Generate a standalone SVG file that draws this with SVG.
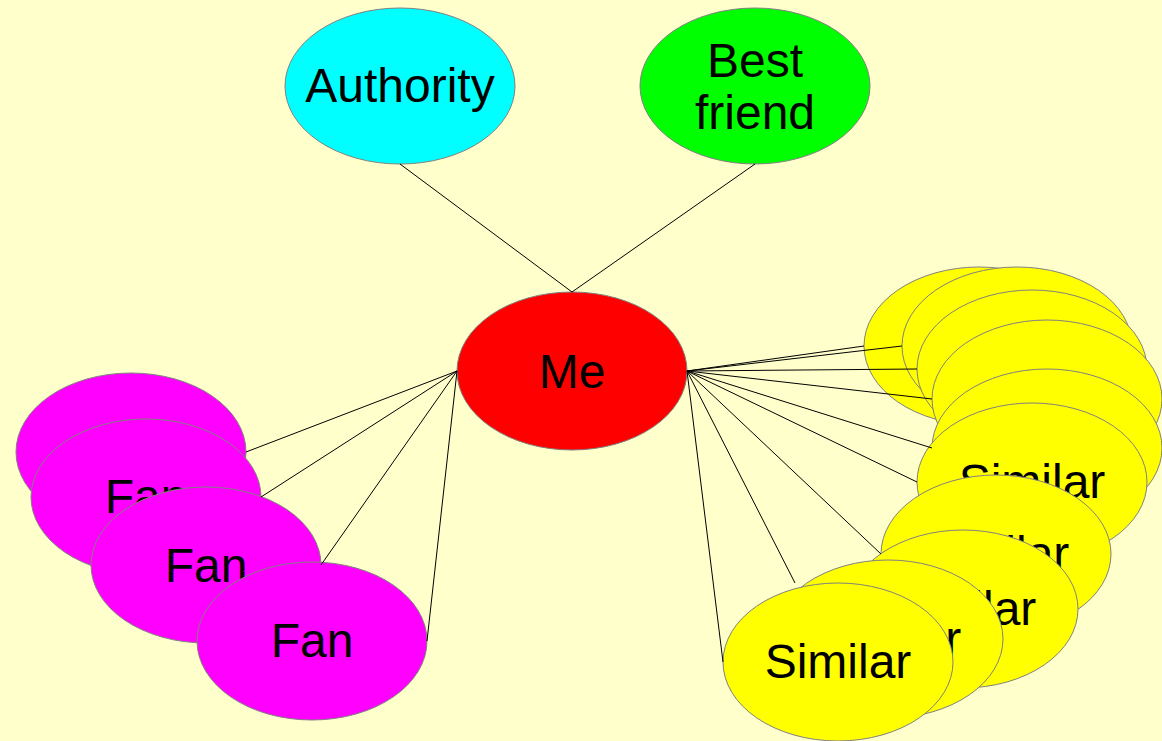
<svg xmlns="http://www.w3.org/2000/svg" width="1162" height="741" viewBox="0 0 1162 741">
<style>
  .n ellipse { stroke: #808080; stroke-width: 1; }
  .n text { font-family: "Liberation Sans", Arial, sans-serif; font-size: 48px; fill: #000; text-anchor: middle; }
  .fan ellipse { fill: #FF00FF; }
  .sim ellipse { fill: #FFFF00; }
  #edges line { stroke: #000; stroke-width: 1; }
</style>
<rect x="0" y="0" width="1162" height="741" fill="#FFFFCC"/>

<g id="authority" class="n"><ellipse cx="400" cy="86" rx="115" ry="78" fill="#00FFFF"/><text x="400" y="102">Authority</text></g>
<g id="bestfriend" class="n"><ellipse cx="755" cy="86" rx="115" ry="78" fill="#00FF00"/><text x="755" y="77">Best</text><text x="755" y="129">friend</text></g>
<g id="me" class="n"><ellipse cx="572" cy="371" rx="115" ry="79" fill="#FF0000"/><text x="572" y="388">Me</text></g>

<g id="fan1" class="n fan"><ellipse cx="131" cy="452" rx="115" ry="79"/><text x="131" y="468">Fan</text></g>
<g id="fan2" class="n fan"><ellipse cx="146" cy="497" rx="115" ry="78"/><text x="146" y="513">Fan</text></g>
<g id="fan3" class="n fan"><ellipse cx="206" cy="565" rx="115" ry="78"/><text x="206" y="582">Fan</text></g>
<g id="fan4" class="n fan"><ellipse cx="312" cy="641" rx="115" ry="79"/><text x="312" y="657">Fan</text></g>

<g id="sim1" class="n sim"><ellipse cx="979" cy="346" rx="115" ry="79"/><text x="979" y="362">Similar</text></g>
<g id="sim2" class="n sim"><ellipse cx="1017" cy="346" rx="115" ry="79"/><text x="1017" y="362">Similar</text></g>
<g id="sim3" class="n sim"><ellipse cx="1032" cy="369" rx="115" ry="79"/><text x="1032" y="385">Similar</text></g>
<g id="sim4" class="n sim"><ellipse cx="1047" cy="399" rx="115" ry="79"/><text x="1047" y="415">Similar</text></g>
<g id="sim5" class="n sim"><ellipse cx="1047" cy="448" rx="115" ry="79"/><text x="1047" y="464">Similar</text></g>
<g id="sim6" class="n sim"><ellipse cx="1032" cy="482" rx="115" ry="79"/><text x="1032" y="498">Similar</text></g>
<g id="sim7" class="n sim"><ellipse cx="996" cy="554" rx="115" ry="79"/><text x="996" y="570">Similar</text></g>
<g id="sim8" class="n sim"><ellipse cx="963" cy="609" rx="115" ry="79"/><text x="963" y="625">Similar</text></g>
<g id="sim9" class="n sim"><ellipse cx="888" cy="639" rx="115" ry="79"/><text x="888" y="655">Similar</text></g>
<g id="sim10" class="n sim"><ellipse cx="838" cy="662" rx="115" ry="79"/><text x="838" y="678">Similar</text></g>

<g id="edges">
  <line x1="400" y1="164" x2="572" y2="292"/>
  <line x1="755" y1="164" x2="572" y2="292"/>
  <line x1="457" y1="371" x2="246" y2="452"/>
  <line x1="457" y1="371" x2="261" y2="497"/>
  <line x1="457" y1="371" x2="321" y2="565"/>
  <line x1="457" y1="371" x2="427" y2="641"/>
  <line x1="687" y1="371" x2="864" y2="346"/>
  <line x1="687" y1="371" x2="902" y2="346"/>
  <line x1="687" y1="371" x2="917" y2="369"/>
  <line x1="687" y1="371" x2="932" y2="399"/>
  <line x1="687" y1="371" x2="932" y2="448"/>
  <line x1="687" y1="371" x2="917" y2="482"/>
  <line x1="687" y1="371" x2="881" y2="554"/>
  <line x1="687" y1="371" x2="795" y2="583"/>
  <line x1="687" y1="371" x2="723" y2="662"/>
</g>
</svg>
